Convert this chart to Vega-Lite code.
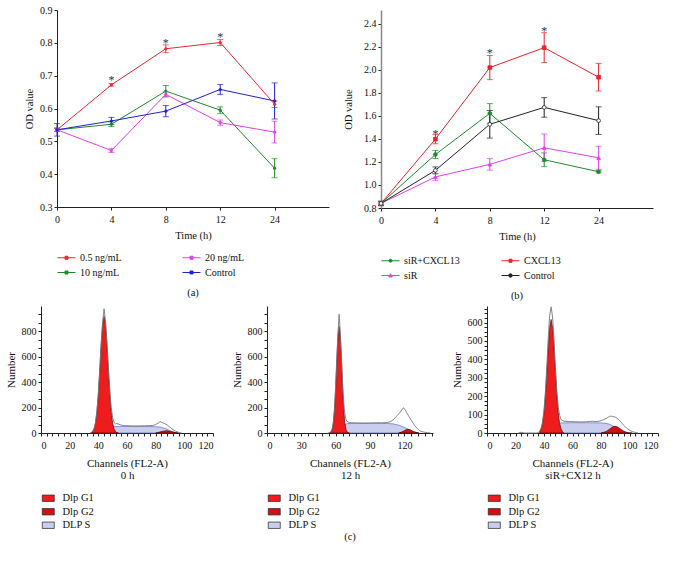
{
  "$schema": "https://vega.github.io/schema/vega-lite/v6.json",
  "padding": {"left": 5, "top": 5, "right": 0, "bottom": 0},
  "background": "white",
  "config": {
    "font": "Liberation Serif",
    "view": {"stroke": null},
    "axis": {"grid": false, "domainColor": "#222", "tickColor": "#222", "labelColor": "#111", "titleColor": "#111", "labelFontSize": 10, "titleFontSize": 10.5, "titleFontWeight": "normal", "tickSize": 3, "labelFont": "Liberation Serif", "titleFont": "Liberation Serif"},
    "legend": {"labelFont": "Liberation Serif", "labelColor": "#111", "labelFontSize": 10},
    "title": {"font": "Liberation Serif", "fontWeight": "normal", "fontSize": 10.5, "color": "#111"}
  },
  "datasets": {
    "a": [
      {"t": 0, "g": "0.5 ng/mL", "v": 0.535, "e": 0.005},
      {"t": 4, "g": "0.5 ng/mL", "v": 0.672, "e": 0.004},
      {"t": 8, "g": "0.5 ng/mL", "v": 0.782, "e": 0.012},
      {"t": 12, "g": "0.5 ng/mL", "v": 0.801, "e": 0.009},
      {"t": 24, "g": "0.5 ng/mL", "v": 0.613, "e": 0.01},
      {"t": 0, "g": "10 ng/mL", "v": 0.535, "e": 0.005},
      {"t": 4, "g": "10 ng/mL", "v": 0.552, "e": 0.007},
      {"t": 8, "g": "10 ng/mL", "v": 0.653, "e": 0.017},
      {"t": 12, "g": "10 ng/mL", "v": 0.595, "e": 0.01},
      {"t": 24, "g": "10 ng/mL", "v": 0.418, "e": 0.029},
      {"t": 0, "g": "20 ng/mL", "v": 0.535, "e": 0.005},
      {"t": 4, "g": "20 ng/mL", "v": 0.472, "e": 0.006},
      {"t": 8, "g": "20 ng/mL", "v": 0.643, "e": 0.008},
      {"t": 12, "g": "20 ng/mL", "v": 0.557, "e": 0.008},
      {"t": 24, "g": "20 ng/mL", "v": 0.528, "e": 0.033},
      {"t": 0, "g": "Control", "v": 0.535, "e": 0.019},
      {"t": 4, "g": "Control", "v": 0.562, "e": 0.011},
      {"t": 8, "g": "Control", "v": 0.592, "e": 0.017},
      {"t": 12, "g": "Control", "v": 0.658, "e": 0.015},
      {"t": 24, "g": "Control", "v": 0.623, "e": 0.055}
    ],
    "astar": [{"t": 4, "v": 0.686}, {"t": 8, "v": 0.8}, {"t": 12, "v": 0.818}],
    "b": [
      {"t": 0, "g": "siR+CXCL13", "v": 0.84, "e": 0.015},
      {"t": 4, "g": "siR+CXCL13", "v": 1.265, "e": 0.035},
      {"t": 8, "g": "siR+CXCL13", "v": 1.622, "e": 0.085},
      {"t": 12, "g": "siR+CXCL13", "v": 1.219, "e": 0.06},
      {"t": 24, "g": "siR+CXCL13", "v": 1.115, "e": 0.01},
      {"t": 0, "g": "CXCL13", "v": 0.84, "e": 0.015},
      {"t": 4, "g": "CXCL13", "v": 1.398, "e": 0.04},
      {"t": 8, "g": "CXCL13", "v": 2.02, "e": 0.105},
      {"t": 12, "g": "CXCL13", "v": 2.193, "e": 0.13},
      {"t": 24, "g": "CXCL13", "v": 1.936, "e": 0.12},
      {"t": 0, "g": "siR", "v": 0.84, "e": 0.015},
      {"t": 4, "g": "siR", "v": 1.07, "e": 0.03},
      {"t": 8, "g": "siR", "v": 1.179, "e": 0.05},
      {"t": 12, "g": "siR", "v": 1.323, "e": 0.12},
      {"t": 24, "g": "siR", "v": 1.236, "e": 0.1},
      {"t": 0, "g": "Control", "v": 0.84, "e": 0.02},
      {"t": 4, "g": "Control", "v": 1.127, "e": 0.03},
      {"t": 8, "g": "Control", "v": 1.527, "e": 0.12},
      {"t": 12, "g": "Control", "v": 1.674, "e": 0.085},
      {"t": 24, "g": "Control", "v": 1.559, "e": 0.12}
    ],
    "bstar": [{"t": 4, "v": 1.445}, {"t": 8, "v": 2.15}, {"t": 12, "v": 2.34}],
    "h1": [
      {"ch": 35, "comp": "Dlp G1", "n": 3}, {"ch": 36, "comp": "Dlp G1", "n": 11}, {"ch": 37, "comp": "Dlp G1", "n": 32}, {"ch": 38, "comp": "Dlp G1", "n": 78}, {"ch": 39, "comp": "Dlp G1", "n": 166}, {"ch": 40, "comp": "Dlp G1", "n": 307}, {"ch": 41, "comp": "Dlp G1", "n": 496}, {"ch": 42, "comp": "Dlp G1", "n": 699}, {"ch": 43, "comp": "Dlp G1", "n": 859}, {"ch": 44, "comp": "Dlp G1", "n": 920}, {"ch": 45, "comp": "Dlp G1", "n": 859}, {"ch": 46, "comp": "Dlp G1", "n": 699}, {"ch": 47, "comp": "Dlp G1", "n": 496}, {"ch": 48, "comp": "Dlp G1", "n": 307}, {"ch": 49, "comp": "Dlp G1", "n": 166}, {"ch": 50, "comp": "Dlp G1", "n": 78}, {"ch": 51, "comp": "Dlp G1", "n": 32}, {"ch": 52, "comp": "Dlp G1", "n": 11}, {"ch": 53, "comp": "Dlp G1", "n": 3}, {"ch": 54, "comp": "Dlp G1", "n": 0},
      {"ch": 40, "comp": "DLP S", "n": 0}, {"ch": 42, "comp": "DLP S", "n": 4}, {"ch": 44, "comp": "DLP S", "n": 14}, {"ch": 46, "comp": "DLP S", "n": 28}, {"ch": 48, "comp": "DLP S", "n": 42}, {"ch": 50, "comp": "DLP S", "n": 50}, {"ch": 55, "comp": "DLP S", "n": 52}, {"ch": 60, "comp": "DLP S", "n": 52}, {"ch": 65, "comp": "DLP S", "n": 51}, {"ch": 70, "comp": "DLP S", "n": 51}, {"ch": 75, "comp": "DLP S", "n": 51}, {"ch": 80, "comp": "DLP S", "n": 50}, {"ch": 84, "comp": "DLP S", "n": 45}, {"ch": 88, "comp": "DLP S", "n": 30}, {"ch": 90, "comp": "DLP S", "n": 18}, {"ch": 92, "comp": "DLP S", "n": 8}, {"ch": 95, "comp": "DLP S", "n": 0},
      {"ch": 80, "comp": "Dlp G2", "n": 0}, {"ch": 82, "comp": "Dlp G2", "n": 5}, {"ch": 84, "comp": "Dlp G2", "n": 11}, {"ch": 86, "comp": "Dlp G2", "n": 16}, {"ch": 87, "comp": "Dlp G2", "n": 18}, {"ch": 88, "comp": "Dlp G2", "n": 18}, {"ch": 90, "comp": "Dlp G2", "n": 14}, {"ch": 92, "comp": "Dlp G2", "n": 8}, {"ch": 94, "comp": "Dlp G2", "n": 3}, {"ch": 96, "comp": "Dlp G2", "n": 0},
      {"ch": 34, "comp": "Total", "n": 0}, {"ch": 35, "comp": "Total", "n": 3}, {"ch": 36, "comp": "Total", "n": 12}, {"ch": 37, "comp": "Total", "n": 34}, {"ch": 38, "comp": "Total", "n": 80}, {"ch": 39, "comp": "Total", "n": 170}, {"ch": 40, "comp": "Total", "n": 312}, {"ch": 41, "comp": "Total", "n": 502}, {"ch": 42, "comp": "Total", "n": 708}, {"ch": 43, "comp": "Total", "n": 872}, {"ch": 44, "comp": "Total", "n": 978}, {"ch": 45, "comp": "Total", "n": 880}, {"ch": 46, "comp": "Total", "n": 718}, {"ch": 47, "comp": "Total", "n": 520}, {"ch": 48, "comp": "Total", "n": 335}, {"ch": 49, "comp": "Total", "n": 200}, {"ch": 50, "comp": "Total", "n": 120}, {"ch": 51, "comp": "Total", "n": 82}, {"ch": 52, "comp": "Total", "n": 72}, {"ch": 53, "comp": "Total", "n": 74}, {"ch": 54, "comp": "Total", "n": 70}, {"ch": 56, "comp": "Total", "n": 62}, {"ch": 58, "comp": "Total", "n": 58}, {"ch": 60, "comp": "Total", "n": 57}, {"ch": 64, "comp": "Total", "n": 56}, {"ch": 68, "comp": "Total", "n": 56}, {"ch": 72, "comp": "Total", "n": 57}, {"ch": 76, "comp": "Total", "n": 58}, {"ch": 78, "comp": "Total", "n": 60}, {"ch": 80, "comp": "Total", "n": 66}, {"ch": 81, "comp": "Total", "n": 74}, {"ch": 82, "comp": "Total", "n": 78}, {"ch": 83, "comp": "Total", "n": 92}, {"ch": 84, "comp": "Total", "n": 84}, {"ch": 85, "comp": "Total", "n": 80}, {"ch": 86, "comp": "Total", "n": 76}, {"ch": 88, "comp": "Total", "n": 64}, {"ch": 90, "comp": "Total", "n": 45}, {"ch": 92, "comp": "Total", "n": 28}, {"ch": 94, "comp": "Total", "n": 14}, {"ch": 96, "comp": "Total", "n": 5}, {"ch": 98, "comp": "Total", "n": 0}
    ],
    "h2": [
      {"ch": 55, "comp": "Dlp G1", "n": 2}, {"ch": 56, "comp": "Dlp G1", "n": 8}, {"ch": 57, "comp": "Dlp G1", "n": 28}, {"ch": 58, "comp": "Dlp G1", "n": 79}, {"ch": 59, "comp": "Dlp G1", "n": 186}, {"ch": 60, "comp": "Dlp G1", "n": 359}, {"ch": 61, "comp": "Dlp G1", "n": 575}, {"ch": 62, "comp": "Dlp G1", "n": 764}, {"ch": 63, "comp": "Dlp G1", "n": 840}, {"ch": 64, "comp": "Dlp G1", "n": 764}, {"ch": 65, "comp": "Dlp G1", "n": 575}, {"ch": 66, "comp": "Dlp G1", "n": 359}, {"ch": 67, "comp": "Dlp G1", "n": 186}, {"ch": 68, "comp": "Dlp G1", "n": 79}, {"ch": 69, "comp": "Dlp G1", "n": 28}, {"ch": 70, "comp": "Dlp G1", "n": 8}, {"ch": 71, "comp": "Dlp G1", "n": 2}, {"ch": 72, "comp": "Dlp G1", "n": 0},
      {"ch": 58, "comp": "DLP S", "n": 0}, {"ch": 60, "comp": "DLP S", "n": 5}, {"ch": 62, "comp": "DLP S", "n": 15}, {"ch": 64, "comp": "DLP S", "n": 30}, {"ch": 66, "comp": "DLP S", "n": 50}, {"ch": 68, "comp": "DLP S", "n": 65}, {"ch": 70, "comp": "DLP S", "n": 74}, {"ch": 75, "comp": "DLP S", "n": 76}, {"ch": 80, "comp": "DLP S", "n": 76}, {"ch": 90, "comp": "DLP S", "n": 76}, {"ch": 100, "comp": "DLP S", "n": 76}, {"ch": 105, "comp": "DLP S", "n": 75}, {"ch": 110, "comp": "DLP S", "n": 72}, {"ch": 115, "comp": "DLP S", "n": 62}, {"ch": 120, "comp": "DLP S", "n": 45}, {"ch": 125, "comp": "DLP S", "n": 22}, {"ch": 128, "comp": "DLP S", "n": 10}, {"ch": 132, "comp": "DLP S", "n": 0},
      {"ch": 115, "comp": "Dlp G2", "n": 0}, {"ch": 117, "comp": "Dlp G2", "n": 5}, {"ch": 119, "comp": "Dlp G2", "n": 14}, {"ch": 121, "comp": "Dlp G2", "n": 24}, {"ch": 123, "comp": "Dlp G2", "n": 30}, {"ch": 125, "comp": "Dlp G2", "n": 26}, {"ch": 127, "comp": "Dlp G2", "n": 16}, {"ch": 129, "comp": "Dlp G2", "n": 8}, {"ch": 131, "comp": "Dlp G2", "n": 3}, {"ch": 133, "comp": "Dlp G2", "n": 0},
      {"ch": 53, "comp": "Total", "n": 0}, {"ch": 54, "comp": "Total", "n": 2}, {"ch": 55, "comp": "Total", "n": 5}, {"ch": 56, "comp": "Total", "n": 12}, {"ch": 57, "comp": "Total", "n": 35}, {"ch": 58, "comp": "Total", "n": 90}, {"ch": 59, "comp": "Total", "n": 200}, {"ch": 60, "comp": "Total", "n": 380}, {"ch": 61, "comp": "Total", "n": 600}, {"ch": 62, "comp": "Total", "n": 790}, {"ch": 63, "comp": "Total", "n": 935}, {"ch": 64, "comp": "Total", "n": 800}, {"ch": 65, "comp": "Total", "n": 610}, {"ch": 66, "comp": "Total", "n": 400}, {"ch": 67, "comp": "Total", "n": 240}, {"ch": 68, "comp": "Total", "n": 150}, {"ch": 69, "comp": "Total", "n": 105}, {"ch": 70, "comp": "Total", "n": 90}, {"ch": 72, "comp": "Total", "n": 82}, {"ch": 75, "comp": "Total", "n": 80}, {"ch": 80, "comp": "Total", "n": 79}, {"ch": 85, "comp": "Total", "n": 78}, {"ch": 90, "comp": "Total", "n": 79}, {"ch": 95, "comp": "Total", "n": 80}, {"ch": 100, "comp": "Total", "n": 80}, {"ch": 105, "comp": "Total", "n": 82}, {"ch": 108, "comp": "Total", "n": 90}, {"ch": 110, "comp": "Total", "n": 102}, {"ch": 112, "comp": "Total", "n": 120}, {"ch": 114, "comp": "Total", "n": 140}, {"ch": 116, "comp": "Total", "n": 160}, {"ch": 118, "comp": "Total", "n": 185}, {"ch": 119, "comp": "Total", "n": 198}, {"ch": 120, "comp": "Total", "n": 192}, {"ch": 121, "comp": "Total", "n": 178}, {"ch": 122, "comp": "Total", "n": 160}, {"ch": 124, "comp": "Total", "n": 130}, {"ch": 126, "comp": "Total", "n": 100}, {"ch": 128, "comp": "Total", "n": 72}, {"ch": 130, "comp": "Total", "n": 48}, {"ch": 132, "comp": "Total", "n": 28}, {"ch": 134, "comp": "Total", "n": 15}, {"ch": 137, "comp": "Total", "n": 7}, {"ch": 140, "comp": "Total", "n": 3}, {"ch": 143, "comp": "Total", "n": 0}
    ],
    "h3": [
      {"ch": 37, "comp": "Dlp G1", "n": 7}, {"ch": 38, "comp": "Dlp G1", "n": 22}, {"ch": 39, "comp": "Dlp G1", "n": 52}, {"ch": 40, "comp": "Dlp G1", "n": 111}, {"ch": 41, "comp": "Dlp G1", "n": 206}, {"ch": 42, "comp": "Dlp G1", "n": 333}, {"ch": 43, "comp": "Dlp G1", "n": 469}, {"ch": 44, "comp": "Dlp G1", "n": 576}, {"ch": 45, "comp": "Dlp G1", "n": 617}, {"ch": 46, "comp": "Dlp G1", "n": 576}, {"ch": 47, "comp": "Dlp G1", "n": 469}, {"ch": 48, "comp": "Dlp G1", "n": 333}, {"ch": 49, "comp": "Dlp G1", "n": 206}, {"ch": 50, "comp": "Dlp G1", "n": 111}, {"ch": 51, "comp": "Dlp G1", "n": 52}, {"ch": 52, "comp": "Dlp G1", "n": 22}, {"ch": 53, "comp": "Dlp G1", "n": 7}, {"ch": 54, "comp": "Dlp G1", "n": 0},
      {"ch": 40, "comp": "DLP S", "n": 0}, {"ch": 42, "comp": "DLP S", "n": 5}, {"ch": 44, "comp": "DLP S", "n": 15}, {"ch": 46, "comp": "DLP S", "n": 28}, {"ch": 48, "comp": "DLP S", "n": 40}, {"ch": 50, "comp": "DLP S", "n": 50}, {"ch": 52, "comp": "DLP S", "n": 55}, {"ch": 60, "comp": "DLP S", "n": 56}, {"ch": 70, "comp": "DLP S", "n": 56}, {"ch": 80, "comp": "DLP S", "n": 55}, {"ch": 85, "comp": "DLP S", "n": 50}, {"ch": 88, "comp": "DLP S", "n": 40}, {"ch": 90, "comp": "DLP S", "n": 32}, {"ch": 92, "comp": "DLP S", "n": 22}, {"ch": 95, "comp": "DLP S", "n": 10}, {"ch": 98, "comp": "DLP S", "n": 0},
      {"ch": 80, "comp": "Dlp G2", "n": 0}, {"ch": 82, "comp": "Dlp G2", "n": 4}, {"ch": 84, "comp": "Dlp G2", "n": 10}, {"ch": 86, "comp": "Dlp G2", "n": 21}, {"ch": 88, "comp": "Dlp G2", "n": 32}, {"ch": 89, "comp": "Dlp G2", "n": 35}, {"ch": 90, "comp": "Dlp G2", "n": 36}, {"ch": 91, "comp": "Dlp G2", "n": 35}, {"ch": 92, "comp": "Dlp G2", "n": 31}, {"ch": 94, "comp": "Dlp G2", "n": 20}, {"ch": 96, "comp": "Dlp G2", "n": 10}, {"ch": 98, "comp": "Dlp G2", "n": 4}, {"ch": 100, "comp": "Dlp G2", "n": 1}, {"ch": 102, "comp": "Dlp G2", "n": 0},
      {"ch": 22, "comp": "Total", "n": 0}, {"ch": 24, "comp": "Total", "n": 4}, {"ch": 26, "comp": "Total", "n": 0}, {"ch": 35, "comp": "Total", "n": 0}, {"ch": 36, "comp": "Total", "n": 3}, {"ch": 37, "comp": "Total", "n": 10}, {"ch": 38, "comp": "Total", "n": 28}, {"ch": 39, "comp": "Total", "n": 60}, {"ch": 40, "comp": "Total", "n": 125}, {"ch": 41, "comp": "Total", "n": 225}, {"ch": 42, "comp": "Total", "n": 365}, {"ch": 43, "comp": "Total", "n": 520}, {"ch": 44, "comp": "Total", "n": 640}, {"ch": 45, "comp": "Total", "n": 685}, {"ch": 46, "comp": "Total", "n": 630}, {"ch": 47, "comp": "Total", "n": 510}, {"ch": 48, "comp": "Total", "n": 360}, {"ch": 49, "comp": "Total", "n": 230}, {"ch": 50, "comp": "Total", "n": 140}, {"ch": 51, "comp": "Total", "n": 95}, {"ch": 52, "comp": "Total", "n": 72}, {"ch": 54, "comp": "Total", "n": 64}, {"ch": 58, "comp": "Total", "n": 62}, {"ch": 62, "comp": "Total", "n": 61}, {"ch": 66, "comp": "Total", "n": 60}, {"ch": 70, "comp": "Total", "n": 61}, {"ch": 72, "comp": "Total", "n": 63}, {"ch": 74, "comp": "Total", "n": 64}, {"ch": 76, "comp": "Total", "n": 62}, {"ch": 78, "comp": "Total", "n": 63}, {"ch": 80, "comp": "Total", "n": 67}, {"ch": 82, "comp": "Total", "n": 73}, {"ch": 84, "comp": "Total", "n": 80}, {"ch": 85, "comp": "Total", "n": 86}, {"ch": 86, "comp": "Total", "n": 90}, {"ch": 87, "comp": "Total", "n": 92}, {"ch": 88, "comp": "Total", "n": 90}, {"ch": 90, "comp": "Total", "n": 86}, {"ch": 92, "comp": "Total", "n": 76}, {"ch": 94, "comp": "Total", "n": 60}, {"ch": 96, "comp": "Total", "n": 42}, {"ch": 98, "comp": "Total", "n": 26}, {"ch": 100, "comp": "Total", "n": 15}, {"ch": 102, "comp": "Total", "n": 8}, {"ch": 104, "comp": "Total", "n": 3}, {"ch": 106, "comp": "Total", "n": 0}
    ]
  },
  "resolve": {"scale": {"color": "independent"}, "legend": {"color": "independent"}},
  "spacing": 1,
  "vconcat": [
    {
      "spacing": -18,
      "resolve": {"scale": {"color": "independent"}, "legend": {"color": "independent"}},
      "hconcat": [
        {
          "width": 1,
          "height": 1,
          "data": {"values": []},
          "mark": {"type": "rule", "opacity": 0},
          "encoding": {}
        },
        {
          "bounds": "flush",
          "spacing": 52,
          "resolve": {"scale": {"color": "independent"}, "legend": {"color": "independent"}},
          "hconcat": [
            {
              "width": 272,
              "height": 197,
              "title": {"text": "(a)", "orient": "bottom", "offset": 10},
              "data": {"name": "a"},
              "encoding": {
                "x": {"field": "t", "type": "ordinal", "scale": {"type": "point", "domain": [0, 4, 8, 12, 24, 36], "padding": 0}, "axis": {"values": [0, 4, 8, 12, 24], "labelAngle": 0, "title": "Time (h)", "labelPadding": 4, "titlePadding": 6}},
                "y": {"field": "v", "type": "quantitative", "scale": {"domain": [0.3, 0.9], "zero": false, "nice": false}, "axis": {"values": [0.3, 0.4, 0.5, 0.6, 0.7, 0.8, 0.9], "format": ".1f", "title": "OD value", "titlePadding": 5}}
              },
              "layer": [
                {
                  "mark": {"type": "line", "strokeWidth": 1},
                  "encoding": {
                    "color": {"field": "g", "type": "nominal", "scale": {"domain": ["0.5 ng/mL", "10 ng/mL", "20 ng/mL", "Control"], "range": ["#f0282d", "#1f8a2a", "#e040e8", "#2020d0"]},
                      "legend": {"orient": "none", "legendX": 4, "legendY": 242, "columns": 2, "title": null, "symbolType": "M-1.8,0H1.8M-0.3,-0.3H0.3V0.3H-0.3Z", "symbolSize": 100, "symbolStrokeWidth": 1, "labelOffset": 8, "columnPadding": 58, "rowPadding": 4, "padding": 0,
                        "encode": {"symbols": {"update": {"fill": {"signal": "datum.value === '0.5 ng/mL' ? '#f0282d' : datum.value === '20 ng/mL' ? '#e040e8' : datum.value === '10 ng/mL' ? '#1f8a2a' : '#2020d0'"}}}}}
                    }
                  }
                },
                {
                  "mark": {"type": "errorbar", "ticks": {"size": 6}, "thickness": 1},
                  "encoding": {"yError": {"field": "e"}, "color": {"field": "g", "type": "nominal", "legend": null}}
                },
                {
                  "mark": {"type": "point", "filled": true, "size": 10, "opacity": 1},
                  "encoding": {"color": {"field": "g", "type": "nominal", "legend": null}}
                },
                {
                  "data": {"name": "astar"},
                  "mark": {"type": "text", "text": "*", "fontSize": 12, "color": "#333", "baseline": "middle"}
                }
              ]
            },
            {
              "width": 272,
              "height": 198,
              "title": {"text": "(b)", "orient": "bottom", "offset": 10},
              "data": {"name": "b"},
              "encoding": {
                "x": {"field": "t", "type": "ordinal", "scale": {"type": "point", "domain": [0, 4, 8, 12, 24, 36], "padding": 0}, "axis": {"values": [0, 4, 8, 12, 24], "labelAngle": 0, "title": "Time (h)", "labelPadding": 4, "titlePadding": 6}},
                "y": {"field": "v", "type": "quantitative", "scale": {"domain": [0.8, 2.52], "zero": false, "nice": false}, "axis": {"values": [0.8, 1.0, 1.2, 1.4, 1.6, 1.8, 2.0, 2.2, 2.4], "format": ".1f", "title": "OD value", "titlePadding": 10, "domainColor": "#888", "domainWidth": 1.5}}
              },
              "layer": [
                {
                  "mark": {"type": "line", "strokeWidth": 1},
                  "encoding": {
                    "color": {"field": "g", "type": "nominal", "scale": {"domain": ["siR+CXCL13", "siR", "CXCL13", "Control"], "range": ["#1f8a2a", "#e040e8", "#e8242a", "#222222"]},
                      "legend": {"orient": "none", "legendX": 4, "legendY": 245, "columns": 2, "title": null, "symbolType": "M-1.8,0H1.8M-0.3,-0.3H0.3V0.3H-0.3Z", "symbolSize": 100, "symbolStrokeWidth": 1, "labelOffset": 8, "columnPadding": 39, "rowPadding": 4, "padding": 0,
                        "encode": {"symbols": {"update": {
                          "fill": {"signal": "datum.value === 'siR+CXCL13' ? '#1f8a2a' : datum.value === 'CXCL13' ? '#e8242a' : datum.value === 'siR' ? '#e040e8' : 'white'"},
                          "shape": {"signal": "datum.value === 'siR+CXCL13' ? 'M-1.8,0H1.8M-0.3,0A0.3,0.3 0 1,1 0.3,0A0.3,0.3 0 1,1 -0.3,0Z' : datum.value === 'CXCL13' ? 'M-1.8,0H1.8M-0.3,-0.3H0.3V0.3H-0.3Z' : datum.value === 'siR' ? 'M-1.8,0H1.8M-0.35,0.3L0,-0.35L0.35,0.3Z' : 'M-1.8,0H-0.35M0.35,0H1.8M-0.35,0A0.35,0.35 0 1,1 0.35,0A0.35,0.35 0 1,1 -0.35,0Z'"}
                        }}}}
                    }
                  }
                },
                {
                  "mark": {"type": "errorbar", "ticks": {"size": 6}, "thickness": 1},
                  "encoding": {"yError": {"field": "e"}, "color": {"field": "g", "type": "nominal", "legend": null}}
                },
                {
                  "mark": {"type": "point", "size": 14, "opacity": 1, "strokeWidth": 0.8},
                  "encoding": {
                    "fill": {"field": "g", "type": "nominal", "scale": {"domain": ["siR+CXCL13", "CXCL13", "siR", "Control"], "range": ["#1f8a2a", "#e8242a", "#e040e8", "white"]}, "legend": null},
                    "stroke": {"field": "g", "type": "nominal", "scale": {"domain": ["siR+CXCL13", "CXCL13", "siR", "Control"], "range": ["#1f8a2a", "#e8242a", "#e040e8", "#222222"]}, "legend": null},
                    "shape": {"field": "g", "type": "nominal", "scale": {"domain": ["siR+CXCL13", "CXCL13", "siR", "Control"], "range": ["circle", "square", "triangle-up", "circle"]}, "legend": null}
                  }
                },
                {
                  "data": {"name": "bstar"},
                  "mark": {"type": "text", "text": "*", "fontSize": 12, "color": "#333", "baseline": "middle"}
                }
              ]
            }
          ]
        }
      ]
    },
    {
      "bounds": "flush",
      "spacing": 54,
      "resolve": {"scale": {"color": "independent"}, "legend": {"color": "independent"}},
      "hconcat": [
        {
          "width": 172,
          "height": 127,
          "data": {"name": "h1"},
          "encoding": {
            "x": {"field": "ch", "type": "quantitative", "scale": {"domain": [0, 120], "nice": false}, "axis": {"title": ["Channels (FL2-A)", "0 h"], "titleFontSize": 11, "titleLineHeight": 12.5, "values": [0,4,8,12,16,20,24,28,32,36,40,44,48,52,56,60,64,68,72,76,80,84,88,92,96,100,104,108,112,116,120], "labelExpr": "datum.value % 20 === 0 ? datum.label : ''", "labelOverlap": false, "labelPadding": 4, "titlePadding": 7}},
            "y": {"field": "n", "type": "quantitative", "scale": {"domain": [0, 1000], "nice": false}, "axis": {"title": "Number", "titleFontSize": 11, "values": [0,66.667,133.333,200,266.667,333.333,400,466.667,533.333,600,666.667,733.333,800,866.667,933.333], "labelExpr": "abs(datum.value - round(datum.value/200)*200) < 1 ? format(datum.value, 'd') : ''", "labelOverlap": false, "titlePadding": 5}}
          },
          "layer": [
            {"transform": [{"filter": "datum.comp === 'DLP S'"}], "mark": {"type": "area", "stroke": "#4b58b8", "strokeWidth": 0.6, "opacity": 1},
             "encoding": {"color": {"field": "comp", "type": "nominal", "scale": {"domain": ["Dlp G1", "Dlp G2", "DLP S"], "range": ["#ee1c1c", "#d01218", "#c9cdee"]},
               "legend": {"orient": "none", "legendX": 2, "legendY": 187, "title": null, "symbolType": "M-1.5,-0.8H1.5V0.8H-1.5Z", "symbolSize": 64, "labelOffset": 9, "rowPadding": 2.5, "labelFontSize": 10.5, "symbolStrokeColor": "#222", "symbolStrokeWidth": 0.7, "padding": 0}}}},
            {"transform": [{"filter": "datum.comp === 'Dlp G1'"}], "mark": {"type": "area", "stroke": "#3a0000", "strokeWidth": 0.6, "opacity": 1}, "encoding": {"color": {"field": "comp", "type": "nominal"}}},
            {"transform": [{"filter": "datum.comp === 'Dlp G2'"}], "mark": {"type": "area", "stroke": "#3a0000", "strokeWidth": 0.6, "opacity": 1}, "encoding": {"color": {"field": "comp", "type": "nominal"}}},
            {"transform": [{"filter": "datum.comp === 'Total'"}], "mark": {"type": "line", "color": "#777", "strokeWidth": 0.9}},
            {"data": {"values": [{"ch": 44}, {"ch": 85}]}, "mark": {"type": "point", "shape": "triangle-up", "filled": true, "color": "#000", "size": 26, "opacity": 1, "yOffset": 3}, "encoding": {"y": {"datum": 0}}}
          ]
        },
        {
          "width": 166,
          "height": 127,
          "title": {"text": "(c)", "orient": "bottom", "offset": 1},
          "data": {"name": "h2"},
          "encoding": {
            "x": {"field": "ch", "type": "quantitative", "scale": {"domain": [0, 145], "nice": false}, "axis": {"title": ["Channels (FL2-A)", "12 h"], "titleFontSize": 11, "titleLineHeight": 12.5, "values": [0,6,12,18,24,30,36,42,48,54,60,66,72,78,84,90,96,102,108,114,120,126,132,138,144], "labelExpr": "datum.value % 30 === 0 ? datum.label : ''", "labelOverlap": false, "labelPadding": 4, "titlePadding": 7}},
            "y": {"field": "n", "type": "quantitative", "scale": {"domain": [0, 1000], "nice": false}, "axis": {"title": "Number", "titleFontSize": 11, "values": [0,66.667,133.333,200,266.667,333.333,400,466.667,533.333,600,666.667,733.333,800,866.667,933.333], "labelExpr": "abs(datum.value - round(datum.value/200)*200) < 1 ? format(datum.value, 'd') : ''", "labelOverlap": false, "titlePadding": 5}}
          },
          "layer": [
            {"transform": [{"filter": "datum.comp === 'DLP S'"}], "mark": {"type": "area", "stroke": "#4b58b8", "strokeWidth": 0.6, "opacity": 1},
             "encoding": {"color": {"field": "comp", "type": "nominal", "scale": {"domain": ["Dlp G1", "Dlp G2", "DLP S"], "range": ["#ee1c1c", "#d01218", "#c9cdee"]},
               "legend": {"orient": "none", "legendX": 2, "legendY": 187, "title": null, "symbolType": "M-1.5,-0.8H1.5V0.8H-1.5Z", "symbolSize": 64, "labelOffset": 9, "rowPadding": 2.5, "labelFontSize": 10.5, "symbolStrokeColor": "#222", "symbolStrokeWidth": 0.7, "padding": 0}}}},
            {"transform": [{"filter": "datum.comp === 'Dlp G1'"}], "mark": {"type": "area", "stroke": "#3a0000", "strokeWidth": 0.6, "opacity": 1}, "encoding": {"color": {"field": "comp", "type": "nominal"}}},
            {"transform": [{"filter": "datum.comp === 'Dlp G2'"}], "mark": {"type": "area", "stroke": "#3a0000", "strokeWidth": 0.6, "opacity": 1}, "encoding": {"color": {"field": "comp", "type": "nominal"}}},
            {"transform": [{"filter": "datum.comp === 'Total'"}], "mark": {"type": "line", "color": "#777", "strokeWidth": 0.9}},
            {"data": {"values": [{"ch": 64}, {"ch": 120}]}, "mark": {"type": "point", "shape": "triangle-up", "filled": true, "color": "#000", "size": 26, "opacity": 1, "yOffset": 3}, "encoding": {"y": {"datum": 0}}}
          ]
        },
        {
          "width": 171,
          "height": 127,
          "data": {"name": "h3"},
          "encoding": {
            "x": {"field": "ch", "type": "quantitative", "scale": {"domain": [0, 120], "nice": false}, "axis": {"title": ["Channels (FL2-A)", "siR+CX12 h"], "titleFontSize": 11, "titleLineHeight": 12.5, "values": [0,4,8,12,16,20,24,28,32,36,40,44,48,52,56,60,64,68,72,76,80,84,88,92,96,100,104,108,112,116,120], "labelExpr": "datum.value % 20 === 0 ? datum.label : ''", "labelOverlap": false, "labelPadding": 4, "titlePadding": 7}},
            "y": {"field": "n", "type": "quantitative", "scale": {"domain": [0, 690], "nice": false}, "axis": {"title": "Number", "titleFontSize": 11, "values": [0,25,50,75,100,125,150,175,200,225,250,275,300,325,350,375,400,425,450,475,500,525,550,575,600,625,650,675], "labelExpr": "datum.value % 100 === 0 ? datum.label : ''", "labelOverlap": false, "titlePadding": 5}}
          },
          "layer": [
            {"transform": [{"filter": "datum.comp === 'DLP S'"}], "mark": {"type": "area", "stroke": "#4b58b8", "strokeWidth": 0.6, "opacity": 1},
             "encoding": {"color": {"field": "comp", "type": "nominal", "scale": {"domain": ["Dlp G1", "Dlp G2", "DLP S"], "range": ["#ee1c1c", "#d01218", "#c9cdee"]},
               "legend": {"orient": "none", "legendX": 2, "legendY": 187, "title": null, "symbolType": "M-1.5,-0.8H1.5V0.8H-1.5Z", "symbolSize": 64, "labelOffset": 9, "rowPadding": 2.5, "labelFontSize": 10.5, "symbolStrokeColor": "#222", "symbolStrokeWidth": 0.7, "padding": 0}}}},
            {"transform": [{"filter": "datum.comp === 'Dlp G1'"}], "mark": {"type": "area", "stroke": "#3a0000", "strokeWidth": 0.6, "opacity": 1}, "encoding": {"color": {"field": "comp", "type": "nominal"}}},
            {"transform": [{"filter": "datum.comp === 'Dlp G2'"}], "mark": {"type": "area", "stroke": "#3a0000", "strokeWidth": 0.6, "opacity": 1}, "encoding": {"color": {"field": "comp", "type": "nominal"}}},
            {"transform": [{"filter": "datum.comp === 'Total'"}], "mark": {"type": "line", "color": "#777", "strokeWidth": 0.9}},
            {"data": {"values": [{"ch": 45}]}, "mark": {"type": "point", "shape": "triangle-up", "filled": true, "color": "#000", "size": 26, "opacity": 1, "yOffset": 3}, "encoding": {"y": {"datum": 0}}}
          ]
        }
      ]
    }
  ]
}
